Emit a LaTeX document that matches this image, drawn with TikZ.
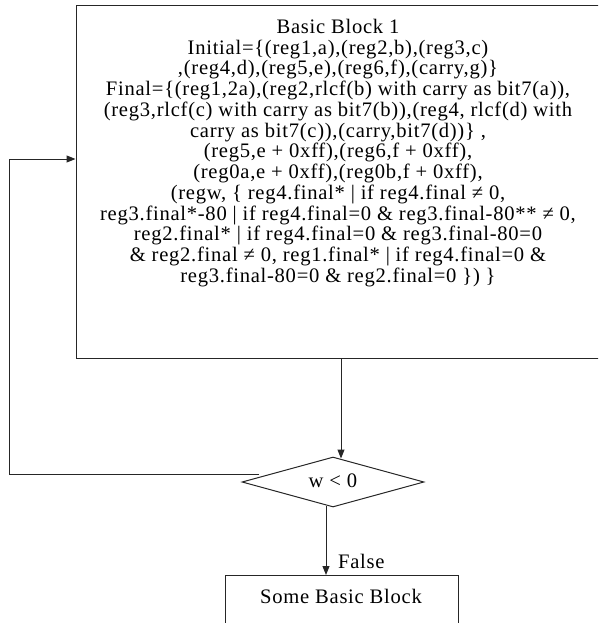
\documentclass[tikz,border=0pt]{standalone}
\usepackage{fontspec}
\setmainfont{Liberation Serif}
\usetikzlibrary{shapes.geometric,arrows.meta}

\tikzset{
  edge/.style={draw=black!85, line width=1pt},
  arr/.style={edge, -{Triangle[length=9pt,width=7pt]}},
  block/.style={draw=black!85, line width=1pt, rectangle, inner sep=0pt},
  test/.style={draw=black!85, line width=1pt, diamond, inner sep=0pt},
  txt/.style={inner sep=0pt, font=\fontsize{20.6}{20.75}\selectfont\addfontfeatures{LetterSpace=3.5}},
}

\begin{document}
\begin{tikzpicture}[x=1pt,y=-1pt]
  \useasboundingbox (0,0) rectangle (598,623);
  \clip (0,0) rectangle (598,623);

  % main basic block and its contents
  \node[block, minimum width=524pt, minimum height=352pt] (bb) at (338,182) {};
  \node[txt, align=center, anchor=north] (bbtext) at (338,19) {%
    Basic Block 1\\
    Initial=\{(reg1,a),(reg2,b),(reg3,c)\\
    ,(reg4,d),(reg5,e),(reg6,f),(carry,g)\}\\
    Final=\{(reg1,2a),(reg2,rlcf(b) with carry as bit7(a)),\\
    (reg3,rlcf(c) with carry as bit7(b)),(reg4, rlcf(d) with\\
    carry as bit7(c)),(carry,bit7(d))\} ,\\
    (reg5,e + 0xff),(reg6,f + 0xff),\\
    (reg0a,e + 0xff),(reg0b,f + 0xff),\\
    (regw, \{ reg4.final* | if reg4.final ≠ 0,\\
    reg3.final*-80 | if reg4.final=0 \& reg3.final-80** ≠ 0,\\
    reg2.final* | if reg4.final=0 \& reg3.final-80=0\\
    \& reg2.final ≠ 0, reg1.final* | if reg4.final=0 \&\\
    reg3.final-80=0 \& reg2.final=0 \}) \}};

  % loop test
  \node[test, minimum width=182pt, minimum height=50pt] (d) at (333,482) {};
  \node[txt] (dtext) at (333,481) {w < 0};

  % successor block
  \node[block, minimum width=233pt, minimum height=70pt, anchor=north] (sb) at (341.5,575) {};
  \node[txt] (sbtext) at (341,596) {Some Basic Block};

  % connectors
  \draw[arr] ([xshift=8pt]d.north |- bb.south) -- ([xshift=8pt,yshift=-2pt]d.north);
  \coordinate (loopend) at (259,474);
  \coordinate (back) at (9,474);
  \draw[arr] (loopend) -- (back) |- ([yshift=23pt]bb.west);
  \draw[arr] ([xshift=-7pt,yshift=2pt]d.south) -- ([xshift=-7pt]d.south |- sb.north);
  \node[txt, anchor=west] (false) at (338,561) {False};
\end{tikzpicture}
\end{document}
